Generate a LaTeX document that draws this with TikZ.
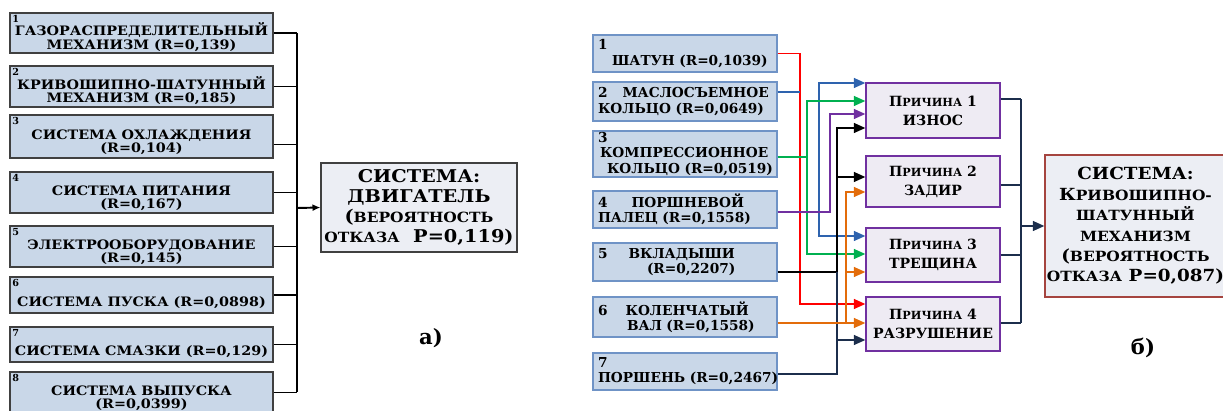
\documentclass[tikz,border=0pt]{standalone}
\usepackage{fontspec}
\setmainfont{DejaVu Serif}
\newfontfamily\widefont{DejaVu Serif}[FakeStretch=1.1]
\usetikzlibrary{arrows.meta}
\definecolor{BoxBlue}{HTML}{C9D7E8}
\definecolor{EdgeBlue}{HTML}{6F93C6}
\definecolor{Lilac}{HTML}{EEEBF3}
\definecolor{Plum}{HTML}{7030A0}
\definecolor{Pale}{HTML}{ECEEF4}
\definecolor{Brick}{HTML}{A5443F}
\definecolor{Navy}{HTML}{1C2E4C}
\definecolor{WireBlue}{HTML}{2E63AE}
\definecolor{WireGreen}{HTML}{00B050}
\definecolor{WireOrange}{HTML}{E36C0A}
\newcommand\smc[2][6.4]{{\fontsize{#1}{0}\selectfont #2}}
\newcommand\up[1][12pt]{\rule{0pt}{#1}}

\begin{document}
\begin{tikzpicture}[x=0.02cm,y=-0.02cm,
    >={Triangle[length=6.5pt,width=5.5pt]},
    part/.style={draw=black!75,fill=BoxBlue,line width=0.7pt,minimum width=5.26cm,inner sep=1pt,align=center,font=\widefont\bfseries\fontsize{7.4}{7.6}\selectfont},
    num/.style={anchor=north west,inner sep=1.5pt,font=\bfseries\fontsize{5.5}{6}\selectfont},
    sys/.style={line width=0.7pt,align=center,inner sep=1pt,font=\widefont\bfseries\fontsize{10}{11.3}\selectfont},
    src/.style={draw=EdgeBlue,fill=BoxBlue,line width=0.8pt,text width=3.48cm,inner xsep=0.1cm,inner ysep=1pt,align=left,font=\bfseries\fontsize{7.8}{8.6}\selectfont},
    cause/.style={draw=Plum,fill=Lilac,line width=0.7pt,minimum width=2.68cm,align=center,font=\bfseries\fontsize{8}{10.8}\selectfont},
    wire/.style={line width=1.1pt}]
  \useasboundingbox (0,0) rectangle (1223,411);

  \node[part,minimum height=0.80cm,label={[num]north west:1}] (gas) at (141.5,33) {\up ГАЗОРАСПРЕДЕЛИТЕЛЬНЫЙ\\МЕХАНИЗМ (R=0,139)};
  \node[part,minimum height=0.82cm,label={[num]north west:2}] (crank) at (141.5,86.5) {\up КРИВОШИПНО-ШАТУННЫЙ\\МЕХАНИЗМ (R=0,185)};
  \node[part,minimum height=0.86cm,label={[num]north west:3}] (cool) at (141.5,136.5) {\up СИСТЕМА ОХЛАЖДЕНИЯ\\(R=0,104)};
  \node[part,minimum height=0.82cm,label={[num]north west:4}] (fuel) at (141.5,192.5) {\up СИСТЕМА ПИТАНИЯ\\(R=0,167)};
  \node[part,minimum height=0.82cm,label={[num]north west:5}] (elec) at (141.5,246.5) {\up ЭЛЕКТРООБОРУДОВАНИЕ\\(R=0,145)};
  \node[part,minimum height=0.72cm,label={[num]north west:6}] (start) at (141.5,295) {\up[14pt]СИСТЕМА ПУСКА (R=0,0898)};
  \node[part,minimum height=0.70cm,label={[num]north west:7}] (lube) at (141.5,344.5) {\up[14pt]СИСТЕМА СМАЗКИ (R=0,129)};
  \node[part,minimum height=0.82cm,label={[num]north west:8}] (exh) at (141.5,392.5) {\up СИСТЕМА ВЫПУСКА\\(R=0,0399)};
  \node[sys,draw=black!75,fill=Pale,minimum width=3.92cm,minimum height=1.78cm] (engine) at (419,207.5)
    {СИСТЕМА:\\ДВИГАТЕЛЬ\\(\smc[8]{ВЕРОЯТНОСТЬ}\\\smc[8]{ОТКАЗА}\ \ P=0,119)};
  \node[font=\bfseries\fontsize{12}{12}\selectfont] (tagA) at (431,338) {а)};

  \coordinate (busa) at (297,208);
  \draw[wire] (gas.east) -- (gas.east -| busa);
  \draw[wire] (crank.east) -- (crank.east -| busa);
  \draw[wire] ([yshift=-0.16cm]cool.east) -- ([yshift=-0.16cm]cool.east -| busa);
  \draw[wire] (fuel.east) -- (fuel.east -| busa);
  \draw[wire] (elec.east) -- (elec.east -| busa);
  \draw[wire] (start.east) -- (start.east -| busa);
  \draw[wire] (lube.east) -- (lube.east -| busa);
  \draw[wire] (exh.east) -- (exh.east -| busa);
  \draw[wire] (gas.east -| busa) -- (exh.east -| busa);
  \draw[wire,-{Latex[length=4.5pt,width=4pt]}] (busa) -- (engine.west);

  \node[src,minimum height=0.74cm] (rod) at (685,53.5) {1\\\hspace*{0.28cm}ШАТУН~(R=0,1039)};
  \node[src,minimum height=0.78cm] (oil) at (685,101.5) {2\hspace{0.3cm}МАСЛОСЪЕМНОЕ\\КОЛЬЦО~(R=0,0649)};
  \node[src,minimum height=0.92cm] (comp) at (685,154) {3\\\hspace*{0.04cm}КОМПРЕССИОННОЕ\\\hspace*{0.18cm}КОЛЬЦО~(R=0,0519)};
  \node[src,minimum height=0.74cm] (pin) at (685,209.5) {4\hspace{0.48cm}ПОРШНЕВОЙ\\ПАЛЕЦ~(R=0,1558)};
  \node[src,minimum height=0.76cm] (brg) at (685,262) {5\hspace{0.42cm}ВКЛАДЫШИ\\\hspace*{0.98cm}(R=0,2207)};
  \node[src,minimum height=0.80cm] (shaft) at (685,317) {6\hspace{0.36cm}КОЛЕНЧАТЫЙ\\\hspace*{0.58cm}ВАЛ~(R=0,1558)};
  \node[src,minimum height=0.74cm] (piston) at (685,371.5) {7\\ПОРШЕНЬ~(R=0,2467)};

  \node[cause,minimum height=1.10cm] (wear) at (933,110.5) {П\smc{РИЧИНА} 1\\ИЗНОС};
  \node[cause,minimum height=1.02cm] (seize) at (933,181.5) {П\smc{РИЧИНА} 2\\ЗАДИР};
  \node[cause,minimum height=1.08cm] (crack) at (933,255) {П\smc{РИЧИНА} 3\\ТРЕЩИНА};
  \node[cause,minimum height=1.08cm] (break) at (933,324) {П\smc{РИЧИНА} 4\\РАЗРУШЕНИЕ};

  \node[sys,draw=Brick,fill=Pale,minimum width=3.62cm,minimum height=2.84cm,font=\widefont\bfseries\fontsize{9.5}{11.6}\selectfont] (crankb) at (1135.5,226)
    {СИСТЕМА:\\К\smc[8]{РИВОШИПНО-}\\\smc[8]{ШАТУННЫЙ}\\\smc[8]{МЕХАНИЗМ}\\(\smc[8]{ВЕРОЯТНОСТЬ}\\\smc[8]{ОТКАЗА} P=0,087)};
  \node[font=\bfseries\fontsize{12}{12}\selectfont] (tagB) at (1143,348) {б)};

  \draw[wire,->,red] (rod.east) -| (800,304) -- (break.west |- 0,304);
  \draw[wire,WireBlue] (oil.east |- 0,92) -- (800,92);
  \draw[wire,<->,WireBlue] (wear.west |- 0,83) -| (819,236) -- (crack.west |- 0,236);
  \draw[wire,->,WireGreen] (comp.east |- 0,157) -- (807,157) |- (wear.west |- 0,101);
  \draw[wire,->,WireGreen] (807,157) |- (crack.west |- 0,254);
  \draw[wire,->,Plum] (pin.east |- 0,212) -| (830,114) -- (wear.west |- 0,114);
  \draw[wire,->] (brg.east |- 0,272) -| (837,128) -- (wear.west |- 0,128);
  \draw[wire,->] (837,177) -- (seize.west |- 0,177);
  \draw[wire,Navy] (piston.east |- 0,374) -| (837,272);
  \draw[wire,->,Navy] (837,340) -- (break.west |- 0,340);
  \draw[wire,->,WireOrange] (shaft.east |- 0,323) -- (break.west |- 0,323);
  \draw[wire,->,WireOrange] (846,323) |- (seize.west |- 0,192);
  \draw[wire,->,WireOrange] (846,272) -- (crack.west |- 0,272);

  \coordinate (busb) at (1021,226);
  \draw[wire,Navy] (wear.east |- 0,99) -- (busb |- 0,99);
  \draw[wire,Navy] (seize.east |- 0,185) -- (busb |- 0,185);
  \draw[wire,Navy] (crack.east |- 0,255) -- (busb |- 0,255);
  \draw[wire,Navy] (break.east |- 0,323) -- (busb |- 0,323);
  \draw[wire,Navy] (busb |- 0,99) -- (busb |- 0,323);
  \draw[wire,->,Navy] (busb) -- (crankb.west);
\end{tikzpicture}
\end{document}
